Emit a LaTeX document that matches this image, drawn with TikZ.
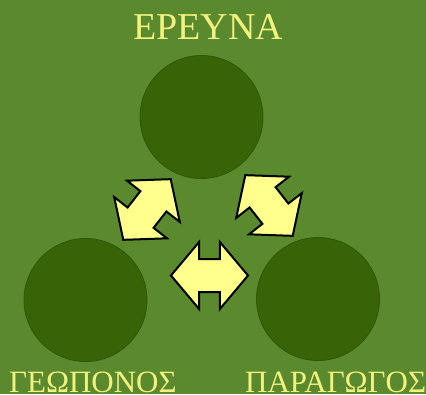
\documentclass[tikz,border=0pt]{standalone}
\usepackage{fontspec}
\setmainfont{Liberation Serif}
\usetikzlibrary{shapes.arrows}

\definecolor{fieldgreen}{HTML}{5B8A2E}
\definecolor{discgreen}{HTML}{386307}
\definecolor{discedge}{HTML}{2F5706}
\definecolor{labelyellow}{HTML}{F2F27E}
\definecolor{arrowyellow}{HTML}{FFFF8C}

\tikzset{
  disc/.style={circle, fill=discgreen, draw=discedge, line width=0.8pt,
    minimum size=123pt, inner sep=0pt},
  swaparrow/.style={double arrow, double arrow tip angle=100,
    double arrow head extend=17pt, minimum height=77pt, minimum width=0pt,
    inner xsep=0pt, inner ysep=15.5pt, fill=arrowyellow, draw=black,
    line width=2pt, line join=miter},
  caption/.style={text=labelyellow, inner sep=0pt}
}

\begin{document}
\begin{tikzpicture}[x=1pt,y=-1pt]
                        \useasboundingbox (0.000000,0.000000) rectangle (426.000000,394.000000);
                        \clip (0.000000,0.000000) rectangle (426.000000,394.000000);

                        % Background field
                        \fill [fieldgreen] (0.000000,0.000000) rectangle (426.000000,394.000000);%

                        % Marking the three discs
                        \node [disc] (research) at (201.500000,117.000000) {};%
                        \node [disc] (farmer) at (85.500000,300.000000) {};%
                        \node [disc] (producer) at (318.000000,299.000000) {};%

                        % Arrows between the discs
                        \node [swaparrow, rotate=52] (farmerresearch) at (147.000000,209.500000) {};%
                        \node [swaparrow, rotate=-52] (researchproducer) at (269.000000,205.500000) {};%
                        \node [swaparrow] (farmerproducer) at (209.500000,275.500000) {};%

                        % Marking the labels
                        {\fontsize{38}{40}\selectfont
                        \node [caption, anchor=base] (researchtext) at (208.000000,39.000000) {ΕΡΕΥΝΑ};%
                        }
                        {\fontsize{31}{33}\selectfont
                        \node [caption, anchor=base west] (farmertext) at (9.000000,392.500000) {ΓΕΩΠΟΝΟΣ};%
                        \node [caption, anchor=base west] (producertext) at (245.000000,392.500000) {ΠΑΡΑΓΩΓΟΣ};%
                        }
\end{tikzpicture}
\end{document}
